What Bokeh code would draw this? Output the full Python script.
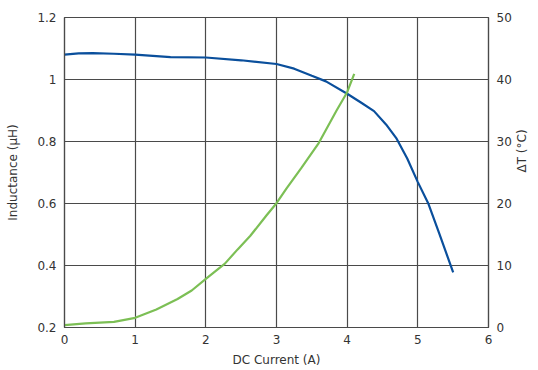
import math
from bokeh.plotting import figure
from bokeh.models import Range1d, LinearAxis, FixedTicker
from bokeh.embed import file_html
from bokeh.resources import INLINE

# Inductance vs DC current (left axis, µH)
ind_current = [0.0, 0.2, 0.4, 0.7, 1.0, 1.5, 2.0, 2.5, 3.0, 3.25, 3.5, 3.7, 4.0, 4.2, 4.38, 4.55, 4.7, 4.85, 5.0, 5.15, 5.3, 5.5]
inductance = [1.080, 1.084, 1.085, 1.083, 1.080, 1.072, 1.071, 1.062, 1.050, 1.035, 1.012, 0.994, 0.954, 0.925, 0.898, 0.855, 0.809, 0.745, 0.669, 0.599, 0.505, 0.378]

# Temperature rise vs DC current (right axis, °C)
temp_current = [0.0, 0.3, 0.7, 1.0, 1.3, 1.6, 1.8, 2.0, 2.27, 2.45, 2.63, 2.86, 3.0, 3.14, 3.35, 3.59, 3.85, 4.0, 4.1]
temp_rise = [0.37, 0.65, 0.9, 1.56, 2.9, 4.6, 5.97, 7.85, 10.3, 12.6, 14.8, 18.1, 20.05, 22.4, 25.7, 29.6, 35.0, 37.95, 40.9]

x_ticks = [0, 1, 2, 3, 4, 5, 6]
left_ticks = [0.2, 0.4, 0.6, 0.8, 1.0, 1.2]
left_labels = ["0.2", "0.4", "0.6", "0.8", "1", "1.2"]
right_ticks = [0, 10, 20, 30, 40, 50]

FONT = "DejaVu Sans"
TXT = "#333333"
GRID = "#4a4a4a"

p = figure(width=538, height=370, output_backend="svg", toolbar_location=None,
           x_range=Range1d(0, 6), y_range=Range1d(0.2, 1.2),
           min_border_left=64, min_border_right=49, min_border_top=17, min_border_bottom=43)
p.extra_y_ranges = {"temp": Range1d(0, 50)}

p.outline_line_color = GRID
p.outline_line_width = 1.2
p.background_fill_color = "white"
p.border_fill_color = "white"

p.xgrid.ticker = FixedTicker(ticks=x_ticks)
p.ygrid.ticker = FixedTicker(ticks=left_ticks)
for g in (p.xgrid, p.ygrid):
    g.grid_line_color = GRID
    g.grid_line_width = 1.2

p.xaxis.ticker = FixedTicker(ticks=x_ticks)
p.yaxis.ticker = FixedTicker(ticks=left_ticks)
p.yaxis.major_label_overrides = {t: l for t, l in zip(left_ticks, left_labels)}
p.xaxis.axis_label = "DC Current (A)"
p.yaxis.axis_label = "Inductance (µH)"

ax_r = LinearAxis(y_range_name="temp", ticker=FixedTicker(ticks=right_ticks), axis_label="ΔT (°C)")
p.add_layout(ax_r, "right")

for ax in (p.xaxis[0], p.yaxis[0], ax_r):
    ax.axis_line_color = GRID
    ax.axis_line_width = 1.2
    ax.major_tick_out = 0
    ax.major_tick_in = 0
    ax.minor_tick_out = 0
    ax.minor_tick_in = 0
    ax.major_label_text_font = FONT
    ax.major_label_text_font_size = "12px"
    ax.major_label_text_color = TXT
    ax.axis_label_text_font = FONT
    ax.axis_label_text_font_size = "12px"
    ax.axis_label_text_font_style = "normal"
    ax.axis_label_text_color = TXT

p.yaxis.major_label_standoff = 8
p.yaxis.axis_label_standoff = 14
p.xaxis.major_label_standoff = 7
p.xaxis.axis_label_standoff = 6
ax_r.major_label_standoff = 8
ax_r.axis_label_standoff = 7
ax_r.axis_label_orientation = math.pi / 2

p.line(ind_current, inductance, line_color="#0a4f9c", line_width=2.2)
p.line(temp_current, temp_rise, y_range_name="temp", line_color="#7cbf55", line_width=2.2)

open("out.html", "w").write(file_html(p, INLINE))
